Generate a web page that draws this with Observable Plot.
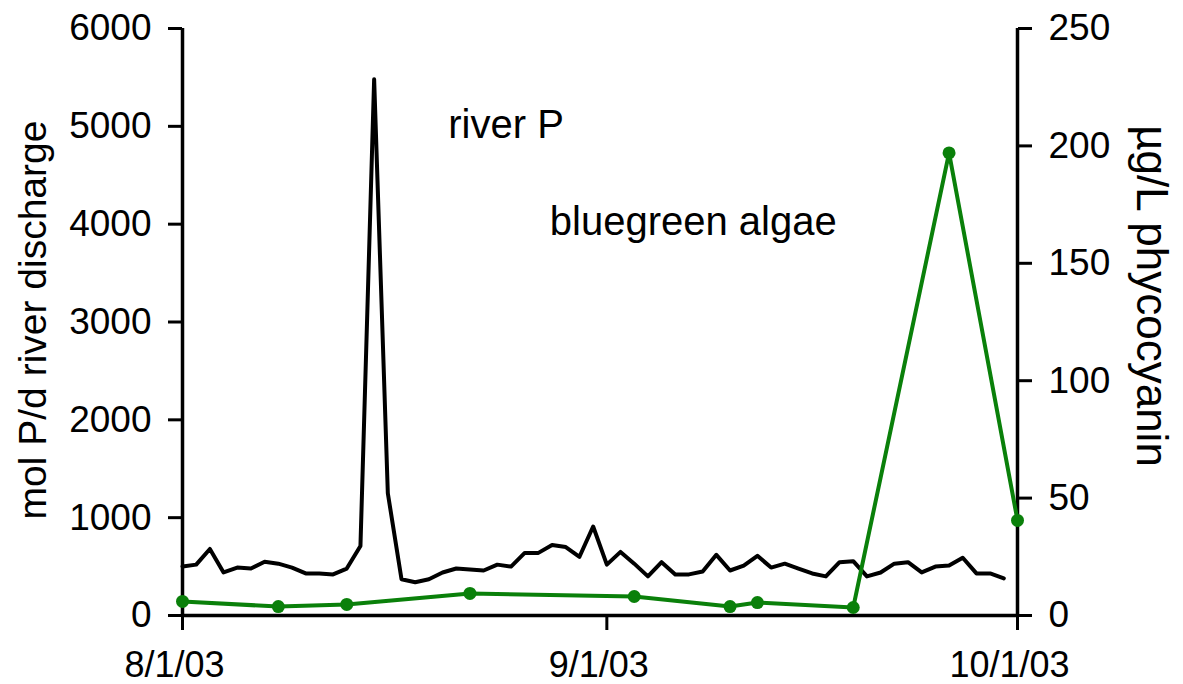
<!DOCTYPE html>
<html><head><meta charset="utf-8">
<script src="https://cdn.jsdelivr.net/npm/d3@7"></script>
<script src="https://cdn.jsdelivr.net/npm/@observablehq/plot@0.6"></script>
<style>body{margin:0;background:#fff;}</style>
</head><body><div id="chart"></div>
<script>
// River P discharge (mol P/d), daily from 8/1/03 to 9/30/03
const riverStart = "2003-08-01";
const riverP = [
  500, 520, 680, 440, 490, 480, 550, 530, 490, 430,
  430, 420, 480, 710, 5480, 1250, 370, 340, 370, 440,
  480, 470, 460, 520, 500, 640, 640, 720, 700, 600,
  910, 520, 650, 530, 400, 545, 420, 420, 450, 620,
  460, 510, 610, 490, 530, 480, 430, 400, 545, 555,
  400, 440, 530, 545, 440, 500, 510, 590, 430, 430,
  380
];
// Bluegreen algae (µg/L phycocyanin)
const algaeDates = ["2003-08-01","2003-08-08","2003-08-13","2003-08-22","2003-09-03","2003-09-10","2003-09-12","2003-09-19","2003-09-26","2003-10-01"];
const algaeValues = [6, 3.8, 4.7, 9.4, 8.1, 3.8, 5.5, 3.4, 197, 40.5];

const xTickDates = ["2003-08-01","2003-09-01","2003-10-01"];
const xTickLabels = ["8/1/03","9/1/03","10/1/03"];
const leftTicks = [0,1000,2000,3000,4000,5000,6000];
const rightTicks = [0,50,100,150,200,250];
const leftMax = 6000, rightMax = 250;

const annotationText = ["river P","bluegreen algae"];
const annotationDates = ["2003-08-20T10:00Z","2003-08-27T20:00Z"];
const annotationValues = [5010, 4020];

const green = "#0a800a";
const k = leftMax / rightMax;

const river = riverP.map((v,i)=>({date: d3.utcDay.offset(new Date(riverStart), i), v}));
const algae = algaeDates.map((d,i)=>({date: new Date(d), v: algaeValues[i]*k}));
const tickMap = new Map(xTickDates.map((d,i)=>[+new Date(d), xTickLabels[i]]));
const annotations = annotationText.map((t,i)=>({t, date:new Date(annotationDates[i]), v:annotationValues[i]}));
const x0 = new Date(xTickDates[0]), x1 = new Date(xTickDates[2]);
const xTicks = xTickDates.map(d=>new Date(d));

const font = "'Liberation Sans', Arial, sans-serif";
const plot = Plot.plot({
  width: 1183, height: 684,
  marginLeft: 182, marginRight: 166, marginTop: 28, marginBottom: 69,
  style: {fontFamily: font, fontSize: "36px", color: "#000", background: "#fff"},
  x: {type: "utc", domain: [x0, x1]},
  y: {domain: [0, leftMax]},
  marks: [
    Plot.axisY({anchor: "left", ticks: leftTicks, tickFormat: d=>String(d), tickSize: 14, tickPadding: 17, strokeWidth: 3, fontSize: 37, label: null}),
    Plot.axisY({anchor: "right", ticks: rightTicks.map(v=>v*k), tickFormat: d=>String(Math.round(d/k)), tickSize: 14, tickPadding: 17, strokeWidth: 3, fontSize: 37, label: null}),
    Plot.axisX({ticks: xTicks, tickFormat: ()=>"", tickSize: 15, strokeWidth: 3, label: null}),
    Plot.axisX({ticks: xTicks, tickFormat: d=>tickMap.get(+d), tickSize: 0, tickPadding: 36, fontSize: 36, dx: -8, label: null}),
    Plot.ruleX([x0, x1], {strokeWidth: 3.5}),
    Plot.ruleY([0], {strokeWidth: 3.5}),
    Plot.line(river, {x: "date", y: "v", stroke: "#000", strokeWidth: 4}),
    Plot.line(algae, {x: "date", y: "v", stroke: green, strokeWidth: 4}),
    Plot.dot(algae, {x: "date", y: "v", r: 6.5, fill: green}),
    Plot.text(annotations, {x: "date", y: "v", text: "t", textAnchor: "start", fontSize: 40}),
    Plot.text(["mol P/d river discharge"], {frameAnchor: "left", textAnchor: "middle", rotate: -90, dx: -149, dy: -2, fontSize: 39}),
    Plot.text(["µg/L phycocyanin"], {frameAnchor: "right", textAnchor: "middle", rotate: 90, dx: 134, dy: -26, fontSize: 44})
  ]
});
document.getElementById("chart").appendChild(plot);
</script>
</body></html>
